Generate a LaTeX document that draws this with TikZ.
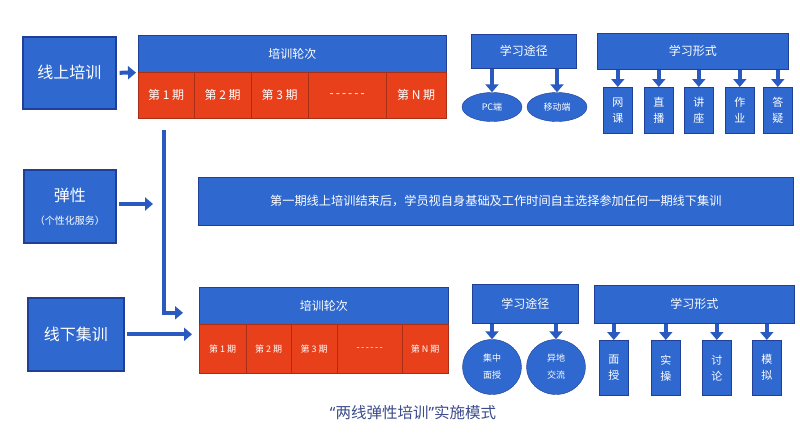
\documentclass[tikz,border=0pt]{standalone}
\usepackage{fontspec}
\setmainfont{Noto Sans CJK SC}
\newfontfamily\latinfont{Noto Sans}
\usetikzlibrary{arrows.meta,shapes.geometric,positioning,calc}
\definecolor{BLUE}{HTML}{2F68CF}
\definecolor{DARKBLUE}{HTML}{213F96}
\definecolor{ARROWBLUE}{HTML}{2A5AC0}
\definecolor{RED}{HTML}{E8401B}
\definecolor{DARKRED}{HTML}{A82E18}
\definecolor{TITLE}{HTML}{3B4B8C}
\newcommand{\fsz}[1]{\fontsize{#1}{#1}\selectfont}

\begin{document}
\begin{tikzpicture}[x=1pt,y=-1pt]
\tikzstyle{box}=[draw=DARKBLUE, fill=BLUE, text=white, inner sep=0pt, align=center, anchor=north west]
\tikzstyle{main box}=[box, line width=1.6pt, font=\fsz{16}]
\tikzstyle{head box}=[box, semithick, font=\fsz{12}]
\tikzstyle{red cell}=[draw=DARKRED, fill=RED, text=white, inner sep=0pt, anchor=north west, thin]
\tikzstyle{way end}=[ellipse, draw=DARKBLUE, fill=BLUE, text=white, inner sep=0pt, align=center, font=\fontsize{9}{17}\selectfont]
\tikzstyle{form box}=[box, semithick, minimum width=29, font=\fontsize{11}{16}\selectfont]
\tikzstyle{blockArrow}=[draw=ARROWBLUE, line width=4.5pt, -{Triangle[length=8pt,width=13pt]}]

\newcommand{\formboxes}[4]{
\foreach \x/\t [count=\i] in {#4} {
    \node[form box, minimum height=#3] (#1\i) at (\x,#2) {\t};
    \draw[blockArrow] (#1\i.north |- #1.south) -- (#1\i.north);
}
}

\useasboundingbox (0,0) rectangle (800,436);

% online training
\node[main box, minimum width=93, minimum height=72] (onlineBox) at (22,36) {线上培训};
\node[head box, minimum width=308, minimum height=37] (topHead) at (138,35) {培训轮次};
\foreach \x/\w/\t [count=\i] in {138/56/第 1 期, 194/57/第 2 期, 251/57/第 3 期, 308/78/{-}\,{-}\,{-}\,{-}\,{-}\,{-}, 386/60/第 N 期}
    \node[red cell, minimum width=\w, minimum height=46, font=\fsz{12}] (topCell\i) at (\x,72) {\t};
\draw[blockArrow, line width=4pt, shorten <=3pt, shorten >=2pt] (onlineBox.east) -- (topHead.south west);

\node[head box, minimum width=105, minimum height=34] (topWay) at (471,34) {学习途径};
\node[way end, minimum width=60, minimum height=29] (pcEnd) at (492,107) {PC端};
\node[way end, minimum width=60, minimum height=29] (mobileEnd) at (557,107) {移动端};
\draw[blockArrow] (pcEnd.north |- topWay.south) -- (pcEnd.north);
\draw[blockArrow] (mobileEnd.north |- topWay.south) -- (mobileEnd.north);

\node[head box, minimum width=191, minimum height=36] (topForm) at (597,33) {学习形式};
\formboxes{topForm}{87}{46}{603/网\\课, 644/直\\播, 684/讲\\座, 725/作\\业, 763/答\\疑}

% flexibility
\node[main box, minimum width=92, minimum height=73] (flexBox) at (23,169) {\fsz{16}弹性\\[7pt]\fsz{10}（个性化服务）};
\coordinate (flexTip) at (153,204);
\draw[blockArrow, line width=4pt, shorten <=2pt] (flexBox.east |- flexTip) -- (flexTip);
\node[head box, minimum width=595, minimum height=48, font=\fsz{12.2}] (noteBox) at (198,177) {第一期线上培训结束后，学员视自身基础及工作时间自主选择参加任何一期线下集训};

% offline training
\node[main box, minimum width=96, minimum height=73] (offlineBox) at (27,297) {线下集训};
\node[head box, minimum width=249, minimum height=37] (botHead) at (199,287) {培训轮次};
\foreach \x/\w/\t [count=\i] in {199/47/第 1 期, 246/45/第 2 期, 291/46/第 3 期, 337/65/{-}\,{-}\,{-}\,{-}\,{-}\,{-}, 402/46/第 N 期}
    \node[red cell, minimum width=\w, minimum height=49, font=\fsz{9}] (botCell\i) at (\x,324) {\t};
\draw[blockArrow, line width=4pt, shorten <=2pt, shorten >=7pt] (offlineBox.east) -- (offlineBox.east -| botCell1.west);
\draw[blockArrow, line width=4pt, shorten <=12pt] ([xshift=-2.5pt]topCell1.south) |- ([xshift=-16pt,yshift=-7pt]botHead.west);

\node[head box, minimum width=106, minimum height=39] (botWay) at (472,284) {学习途径};
\node[way end, minimum width=59, minimum height=55] (groupEnd) at (492,367) {集中\\面授};
\node[way end, minimum width=59, minimum height=55] (remoteEnd) at (556,367) {异地\\交流};
\draw[blockArrow] (groupEnd.north |- botWay.south) -- (groupEnd.north);
\draw[blockArrow] (remoteEnd.north |- botWay.south) -- (remoteEnd.north);

\node[head box, minimum width=200, minimum height=38] (botForm) at (594,285) {学习形式};
\formboxes{botForm}{340}{55}{599/面\\授, 651/实\\操, 702/讨\\论, 752/模\\拟}

\node[font=\fsz{15.5}, text=TITLE] (title) at (413,413) {{\latinfont “}两线弹性培训{\latinfont ”}实施模式};
\end{tikzpicture}
\end{document}
